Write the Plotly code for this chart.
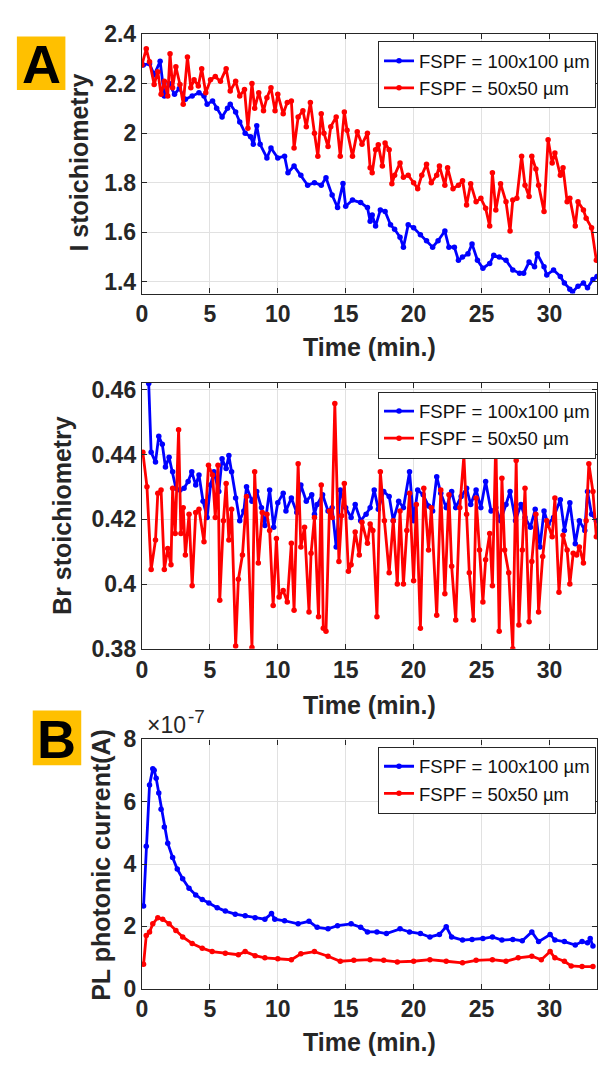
import plotly.graph_objects as go

W, H = 598, 1069
BLUE, RED = "#0000FF", "#FF0000"
TXT = "#262626"
FONT = "Liberation Sans"

legend_names = ["FSPF = 100x100 µm", "FSPF = 50x50 µm"]

# ---------------- Panel A (top): I stoichiometry ----------------
t_I_100 = [0.1, 0.56, 0.9, 1.34, 1.65, 2.0, 2.4, 2.75, 3.2, 3.7,
           4.2, 4.57, 4.8, 5.2, 5.5, 5.9, 6.3, 6.5, 6.9, 7.2,
           7.6, 8.0, 8.2, 8.45, 8.7, 9.2, 9.5, 10.0, 10.5, 10.75,
           11.2, 11.7, 12.2, 12.7, 13.2, 13.55, 14.0, 14.4, 14.8, 15.0,
           15.5, 16.1, 16.6, 16.8, 16.95, 17.2, 17.55, 17.9, 18.3, 18.6,
           19.0, 19.25, 19.6, 20.0, 20.5, 20.95, 21.4, 21.8, 22.3, 22.6,
           23.0, 23.3, 23.6, 24.0, 24.3, 24.7, 25.1, 25.6, 25.9, 26.3,
           26.8, 27.3, 27.8, 28.1, 28.5, 28.9, 29.1, 29.6, 29.8, 30.3,
           30.8, 31.1, 31.5, 31.7, 32.1, 32.5, 32.8, 33.2, 33.5]
I_100 = [2.275, 2.28, 2.235, 2.29, 2.15, 2.20, 2.157, 2.18, 2.137, 2.15,
         2.163, 2.15, 2.117, 2.13, 2.10, 2.065, 2.10, 2.117, 2.085, 2.045,
         2.0, 1.985, 1.955, 2.03, 1.955, 1.90, 1.94, 1.90, 1.907, 1.84,
         1.867, 1.83, 1.79, 1.80, 1.79, 1.82, 1.75, 1.70, 1.797, 1.705,
         1.73, 1.72, 1.70, 1.645, 1.67, 1.625, 1.69, 1.684, 1.63, 1.612,
         1.58, 1.54, 1.63, 1.618, 1.59, 1.566, 1.54, 1.566, 1.605, 1.54,
         1.54, 1.487, 1.50, 1.513, 1.553, 1.487, 1.455, 1.474, 1.507, 1.50,
         1.487, 1.448, 1.435, 1.435, 1.48, 1.461, 1.513, 1.461, 1.428, 1.448,
         1.422, 1.395, 1.37, 1.36, 1.382, 1.395, 1.376, 1.41, 1.422]

t_I_50 = [0.0, 0.32, 0.56, 0.9, 1.17, 1.41, 1.65, 1.9, 2.07, 2.26,
          2.5, 2.8, 3.04, 3.35, 3.6, 3.84, 4.15, 4.4, 4.7, 5.05,
          5.4, 5.78, 6.2, 6.5, 6.9, 7.2, 7.55, 7.8, 8.1, 8.3,
          8.6, 8.95, 9.2, 9.5, 9.8, 10.0, 10.4, 10.7, 11.0, 11.2,
          11.5, 11.85, 12.1, 12.4, 12.7, 12.95, 13.2, 13.4, 13.7, 13.9,
          14.3, 14.6, 14.9, 15.1, 15.5, 15.85, 16.2, 16.6, 16.8, 16.95,
          17.2, 17.4, 17.7, 17.9, 18.2, 18.4, 18.6, 19.0, 19.25, 19.6,
          20.0, 20.3, 20.6, 20.95, 21.3, 21.7, 21.9, 22.3, 22.5, 22.9,
          23.3, 23.6, 23.9, 24.2, 24.6, 24.95, 25.3, 25.6, 25.8, 26.05,
          26.4, 26.8, 27.1, 27.3, 27.6, 27.95, 28.2, 28.5, 28.7, 29.0,
          29.2, 29.6, 29.9, 30.2, 30.4, 30.8, 31.0, 31.3, 31.5, 31.9,
          32.1, 32.5, 32.7, 33.1, 33.45]
I_50 = [2.275, 2.34, 2.288, 2.196, 2.248, 2.157, 2.209, 2.15, 2.32, 2.183,
        2.268, 2.196, 2.117, 2.307, 2.183, 2.215, 2.19, 2.26, 2.163, 2.215,
        2.228, 2.209, 2.26, 2.17, 2.209, 2.15, 2.176, 2.02, 2.20, 2.10,
        2.163, 2.09, 2.143, 2.183, 2.09, 2.157, 2.078, 2.124, 2.13, 1.94,
        2.065, 2.09, 2.026, 2.124, 2.0, 1.907, 2.078, 2.0, 1.946, 2.026,
        2.065, 1.907, 2.085, 2.012, 1.907, 2.006, 1.955, 2.0, 1.86, 1.84,
        1.933, 1.953, 1.867, 1.96, 1.933, 1.796, 1.83, 1.88, 1.822, 1.83,
        1.80, 1.776, 1.83, 1.874, 1.80, 1.83, 1.867, 1.79, 1.86, 1.776,
        1.79, 1.808, 1.71, 1.796, 1.723, 1.737, 1.697, 1.625, 1.84, 1.69,
        1.796, 1.723, 1.605, 1.73, 1.737, 1.907, 1.79, 1.744, 1.907, 1.855,
        1.79, 1.684, 1.973, 1.88, 1.92, 1.83, 1.86, 1.723, 1.737, 1.625,
        1.723, 1.69, 1.657, 1.618, 1.487]

# ---------------- Panel A (middle): Br stoichiometry ----------------
t_Br_100 = [0.5, 0.68, 1.0, 1.24, 1.5, 1.73, 2.0, 2.26, 2.5, 2.8,
            3.1, 3.4, 3.67, 3.96, 4.2, 4.5, 4.8, 5.05, 5.3, 5.66,
            5.9, 6.2, 6.4, 6.6, 6.9, 7.2, 7.5, 7.7, 8.1, 8.45,
            8.8, 9.05, 9.4, 9.7, 10.0, 10.4, 10.6, 11.0, 11.4, 11.7,
            12.1, 12.5, 12.7, 12.9, 13.3, 13.7, 14.0, 14.3, 14.6, 15.0,
            15.4, 15.7, 16.1, 16.5, 16.8, 17.1, 17.4, 17.8, 18.2, 18.5,
            18.9, 19.25, 19.7, 20.0, 20.3, 20.7, 21.1, 21.4, 21.7, 22.0,
            22.4, 22.8, 23.1, 23.5, 23.9, 24.2, 24.6, 24.95, 25.3, 25.7,
            26.05, 26.4, 26.8, 27.1, 27.5, 27.9, 28.2, 28.6, 28.95, 29.3,
            29.6, 29.9, 30.3, 30.8, 31.1, 31.5, 31.9, 32.2, 32.6, 32.8,
            33.1, 33.45]
Br_100 = [0.462, 0.4407, 0.4377, 0.4457, 0.4432, 0.4362, 0.4392, 0.4347, 0.4296, 0.4291,
          0.4296, 0.4317, 0.4347, 0.4306, 0.4337, 0.4256, 0.4206, 0.4306, 0.4347, 0.4286,
          0.4387, 0.4357, 0.4397, 0.4347, 0.4266, 0.4196, 0.4226, 0.4301, 0.4256, 0.4286,
          0.4236, 0.4181, 0.4291, 0.4176, 0.4251, 0.4281, 0.4226, 0.4266, 0.4221, 0.4306,
          0.4256, 0.4276, 0.4216, 0.4246, 0.4276, 0.4226, 0.4236, 0.4115, 0.4291, 0.4236,
          0.4206, 0.4246, 0.4196, 0.4216, 0.4236, 0.4291, 0.4231, 0.4286, 0.4271, 0.4196,
          0.4256, 0.4236, 0.4347, 0.4196, 0.4291, 0.4276, 0.4241, 0.4226, 0.4332, 0.4281,
          0.4236, 0.4286, 0.4236, 0.4271, 0.4296, 0.4246, 0.4291, 0.4236, 0.4317, 0.4226,
          0.4236, 0.4196, 0.4246, 0.4286, 0.4196, 0.4246, 0.4206, 0.4176, 0.4231, 0.4115,
          0.4226, 0.4186, 0.4206, 0.4261, 0.4166, 0.4251, 0.4125, 0.4196, 0.4166, 0.4286,
          0.4216, 0.4196]

t_Br_50 = [0.07, 0.37, 0.68, 1.0, 1.17, 1.41, 1.65, 1.9, 2.14, 2.26,
           2.45, 2.7, 2.87, 3.04, 3.2, 3.47, 3.7, 3.96, 4.2, 4.57,
           4.9, 5.2, 5.4, 5.6, 5.73, 6.0, 6.2, 6.4, 6.6, 6.9,
           7.1, 7.4, 7.7, 8.1, 8.3, 8.57, 8.86, 9.2, 9.4, 9.66,
           9.9, 10.1, 10.4, 10.7, 11.0, 11.2, 11.5, 11.7, 11.97, 12.3,
           12.45, 12.7, 13.0, 13.2, 13.35, 13.55, 13.8, 14.0, 14.2, 14.5,
           14.7, 14.9, 15.2, 15.4, 15.7, 16.0, 16.2, 16.6, 16.8, 17.0,
           17.3, 17.55, 17.85, 18.2, 18.5, 18.8, 19.0, 19.25, 19.5, 19.7,
           20.0, 20.2, 20.5, 20.75, 21.1, 21.3, 21.7, 22.0, 22.3, 22.6,
           22.8, 23.1, 23.4, 23.7, 23.9, 24.1, 24.4, 24.6, 24.85, 25.1,
           25.3, 25.6, 25.8, 26.05, 26.3, 26.5, 26.7, 27.0, 27.3, 27.55,
           27.75, 28.0, 28.2, 28.5, 28.7, 29.0, 29.2, 29.5, 29.8, 30.2,
           30.4, 30.7, 31.0, 31.3, 31.5, 31.75, 32.0, 32.2, 32.5, 32.7,
           32.9, 33.2, 33.45]
Br_50 = [0.4407, 0.4301, 0.4045, 0.4136, 0.4281, 0.4291, 0.4045, 0.4110, 0.4060, 0.4296,
         0.4156, 0.4477, 0.4156, 0.4236, 0.4090, 0.4216, 0.3995, 0.4221, 0.4231, 0.4131,
         0.4367, 0.4337, 0.4206, 0.4367, 0.3950, 0.4196, 0.4311, 0.4136, 0.4231, 0.3809,
         0.4015, 0.4090, 0.4271, 0.3804, 0.4347, 0.4065, 0.4221, 0.4216, 0.4166, 0.3934,
         0.4141, 0.3960, 0.3980, 0.3945, 0.4126, 0.3919, 0.4372, 0.4115, 0.4176, 0.3914,
         0.4095, 0.4206, 0.3899, 0.4306, 0.3864, 0.3854, 0.4226, 0.4206, 0.4558, 0.4070,
         0.4211, 0.4311, 0.4040, 0.4060, 0.4161, 0.4090, 0.4191, 0.4126, 0.4186, 0.4166,
         0.3899, 0.4347, 0.4196, 0.4035, 0.4196, 0.4000, 0.4226, 0.4000, 0.4166, 0.4281,
         0.4010, 0.4246, 0.3864, 0.4296, 0.4105, 0.4236, 0.3904, 0.4291, 0.3970, 0.4276,
         0.4055, 0.3889, 0.4236, 0.4397, 0.4216, 0.4035, 0.3889, 0.4266, 0.4105, 0.3945,
         0.4075, 0.4156, 0.3995, 0.4447, 0.3854, 0.4327, 0.4105, 0.4035, 0.3800, 0.4382,
         0.3874, 0.4105, 0.4296, 0.3884, 0.4070, 0.4216, 0.3914, 0.4085, 0.4196, 0.4146,
         0.4266, 0.3975, 0.4151, 0.4105, 0.4000, 0.4095, 0.4090, 0.4115, 0.4065, 0.4196,
         0.4372, 0.4286, 0.4146]

# ---------------- Panel B: PL photonic current (units of 1e-7 A) ----------------
t_PL_100 = [0.12, 0.32, 0.56, 0.8, 0.9, 1.05, 1.24, 1.41, 1.65, 1.9,
            2.26, 2.6, 3.0, 3.47, 3.96, 4.44, 4.93, 5.54, 6.14, 6.87,
            7.6, 8.33, 9.05, 9.54, 9.78, 10.5, 11.5, 12.3, 12.9, 13.7,
            14.4, 15.4, 16.1, 16.6, 17.3, 18.0, 19.0, 19.7, 20.5, 21.2,
            21.9, 22.4, 22.8, 23.6, 24.3, 25.1, 25.8, 26.5, 27.3, 28.0,
            28.7, 29.2, 30.05, 30.4, 31.1, 31.9, 32.4, 32.8, 33.0, 33.2]
PL_100 = [2.65, 4.57, 6.54, 7.06, 7.01, 6.75, 6.28, 5.76, 5.19, 4.67,
          4.21, 3.84, 3.53, 3.22, 3.01, 2.86, 2.75, 2.60, 2.49, 2.39,
          2.34, 2.28, 2.23, 2.41, 2.23, 2.18, 2.08, 2.16, 1.97, 1.92,
          2.02, 2.08, 1.97, 1.82, 1.82, 1.77, 1.92, 1.82, 1.77, 1.66,
          1.74, 1.99, 1.66, 1.56, 1.58, 1.61, 1.66, 1.56, 1.58, 1.54,
          1.82, 1.51, 1.74, 1.56, 1.51, 1.40, 1.51, 1.47, 1.61, 1.37]

t_PL_50 = [0.12, 0.32, 0.56, 0.8, 1.17, 1.53, 2.0, 2.5, 3.0, 3.7,
           4.44, 5.17, 6.14, 7.1, 7.6, 8.33, 9.05, 10.0, 11.0, 11.7,
           12.7, 13.7, 14.6, 15.6, 16.8, 17.8, 18.8, 20.0, 21.2, 22.4,
           23.6, 24.6, 25.8, 26.8, 27.7, 28.7, 29.4, 30.05, 30.4, 31.1,
           31.6, 32.4, 33.2]
PL_50 = [0.78, 1.71, 1.82, 2.08, 2.28, 2.23, 2.08, 1.87, 1.66, 1.45,
         1.30, 1.19, 1.14, 1.09, 1.19, 1.06, 0.99, 0.96, 0.93, 1.12,
         1.19, 1.04, 0.88, 0.91, 0.93, 0.91, 0.86, 0.88, 0.93, 0.88,
         0.83, 0.91, 0.93, 0.88, 0.99, 1.04, 0.93, 1.19, 0.99, 0.88,
         0.73, 0.71, 0.71]

x_ticks = [0, 5, 10, 15, 20, 25, 30]


def px_x(p):
    return p / W


def px_y(p):
    return 1 - p / H


fig = go.Figure()

panels = [
    ("x", "y", "legend", (t_I_100, I_100), (t_I_50, I_50)),
    ("x2", "y2", "legend2", (t_Br_100, Br_100), (t_Br_50, Br_50)),
    ("x3", "y3", "legend3", (t_PL_100, PL_100), (t_PL_50, PL_50)),
]
for xa, ya, lg, (tb, vb), (tr, vr) in panels:
    fig.add_trace(go.Scatter(x=tb, y=vb, mode="lines+markers", name=legend_names[0],
                             line=dict(color=BLUE, width=2.8), marker=dict(color=BLUE, size=5.5),
                             xaxis=xa, yaxis=ya, legend=lg))
    fig.add_trace(go.Scatter(x=tr, y=vr, mode="lines+markers", name=legend_names[1],
                             line=dict(color=RED, width=2.8), marker=dict(color=RED, size=5.5),
                             xaxis=xa, yaxis=ya, legend=lg))

tickfont = dict(family=FONT, size=23, color=TXT, weight="bold")
axis_common = dict(ticks="inside", ticklen=5, tickwidth=1, tickcolor=TXT,
                   showline=True, linecolor=TXT, linewidth=1.3, mirror="ticks",
                   showgrid=True, gridcolor="#e1e1e1", gridwidth=1, zeroline=False,
                   tickfont=tickfont)

xdom = [px_x(137.3), px_x(597)]
ydoms = [[px_y(287.5), px_y(21.5)], [px_y(651.7), px_y(379)], [px_y(1000), px_y(744.5)]]
yranges = [[1.353, 2.4], [0.38, 0.4622], [0, 8]]
yticks = [([1.4, 1.6, 1.8, 2.0, 2.2, 2.4], ["1.4", "1.6", "1.8", "2", "2.2", "2.4"]),
          ([0.38, 0.40, 0.42, 0.44, 0.46], ["0.38", "0.4", "0.42", "0.44", "0.46"]),
          ([0, 2, 4, 6, 8], ["0", "2", "4", "6", "8"])]

layout = dict(width=W, height=H, margin=dict(l=0, r=0, t=0, b=0),
              paper_bgcolor="white", plot_bgcolor="white", showlegend=True)
for i in range(3):
    sx = "" if i == 0 else str(i + 1)
    layout["xaxis" + sx] = dict(domain=xdom, range=[0, 33.5], tickvals=x_ticks,
                                anchor="y" + sx, **axis_common)
    layout["yaxis" + sx] = dict(domain=ydoms[i], range=yranges[i], tickvals=yticks[i][0],
                                ticktext=yticks[i][1], anchor="x" + sx, **axis_common)

legend_tops = [29, 388, 752]
for i, top in enumerate(legend_tops):
    key = "legend" if i == 0 else "legend" + str(i + 1)
    layout[key] = dict(x=px_x(596), xanchor="right", y=px_y(top), yanchor="top",
                       bgcolor="white", bordercolor=TXT, borderwidth=1,
                       font=dict(family=FONT, size=18.5, color="#111111"),
                       itemwidth=30, tracegroupgap=0)
fig.update_layout(**layout)

title_font = dict(family=FONT, size=25, color=TXT, weight="bold")
annotations = []
# x-axis titles
for yc in [342, 709, 1055]:
    annotations.append(dict(text="Time (min.)", x=px_x(367), y=px_y(yc), xref="paper", yref="paper",
                            xanchor="center", yanchor="middle", showarrow=False, font=title_font))
# y-axis titles
for txt, xc, yc in [("I stoichiometry", 74, 153), ("Br stoichiometry", 57, 515),
                    ("PL photonic current(A)", 96, 873)]:
    annotations.append(dict(text=txt, x=px_x(xc), y=px_y(yc), xref="paper", yref="paper",
                            xanchor="center", yanchor="middle", textangle=-90,
                            showarrow=False, font=title_font))
# exponent label (x10^-7)
annotations.append(dict(text="×10", x=px_x(140), y=px_y(730), xref="paper", yref="paper",
                        xanchor="left", yanchor="middle", showarrow=False,
                        font=dict(family=FONT, size=23, color=TXT)))
annotations.append(dict(text="-7", x=px_x(182), y=px_y(721), xref="paper", yref="paper",
                        xanchor="left", yanchor="middle", showarrow=False,
                        font=dict(family=FONT, size=19, color=TXT)))
# panel letters
shapes = []
for letter, (x0, y0, x1, y1) in [("A", (11, 24, 60, 79)), ("B", (27, 715, 76, 771))]:
    shapes.append(dict(type="rect", xref="paper", yref="paper", x0=px_x(x0), x1=px_x(x1),
                       y0=px_y(y1), y1=px_y(y0), fillcolor="#FFC000", line=dict(width=0)))
    annotations.append(dict(text=letter, x=px_x((x0 + x1) / 2), y=px_y((y0 + y1) / 2 + 1),
                            xref="paper", yref="paper", xanchor="center", yanchor="middle",
                            showarrow=False,
                            font=dict(family=FONT, size=54, color="black", weight="bold")))
fig.update_layout(annotations=annotations, shapes=shapes)

fig.write_html("out.html", config={"displayModeBar": False},
               post_script="document.body.style.margin='0';document.body.style.overflow='hidden';")
